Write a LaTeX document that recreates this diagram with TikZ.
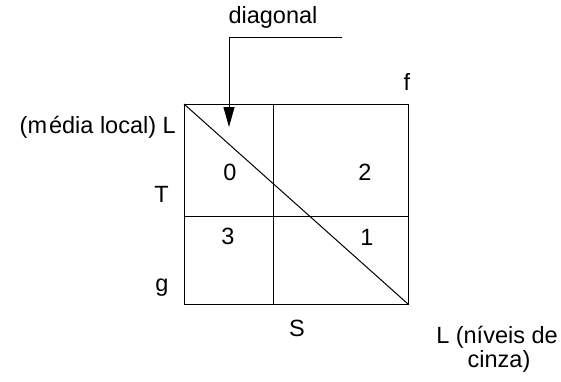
\documentclass[tikz,border=0pt]{standalone}
\usepackage{fontspec}
\setmainfont{Liberation Sans}
\usetikzlibrary{arrows.meta}
\begin{document}
\begin{tikzpicture}[x=1pt,y=-1pt,
  line/.style={draw=black,line width=1pt},
  lbl/.style={inner sep=0pt,font=\fontsize{23.5}{25}\selectfont},
  pointer/.style={line,-{Triangle[length=20pt,width=11pt]}}]
\useasboundingbox (0,0) rectangle (561,381);
% square
\coordinate (tl) at (184,104);
\coordinate (br) at (408,304);
\coordinate (vt) at (273,104);
\coordinate (vb) at (273,304);
\coordinate (hl) at (184,216);
\coordinate (hr) at (408,216);
\draw[line] (tl) rectangle (br);
\draw[line] (vt) -- (vb);
\draw[line] (hl) -- (hr);
\draw[line] (tl) -- (br);
% pointer
\coordinate (p0) at (342,37);
\coordinate (p1) at (229,127);
\draw[pointer] (p0) -| (p1);
% labels
\node[lbl,anchor=base] (diag) at (273,23) {diagonal};
\node[lbl,anchor=base] (f) at (407,90) {f};
\node[lbl,anchor=base east] (ml) at (176,133) {(m\kern2pt édia local) L};
\node[lbl,anchor=base] (T) at (161.5,202) {T};
\node[lbl,anchor=base] (g) at (162,291) {g};
\node[lbl,anchor=base] (n0) at (230,180) {0};
\node[lbl,anchor=base] (n2) at (365,180) {2};
\node[lbl,anchor=base] (n3) at (228,244) {3};
\node[lbl,anchor=base] (n1) at (367,245) {1};
\node[lbl,anchor=base] (S) at (297,336) {S};
\node[lbl,anchor=base] (Ln) at (497,343) {L (níveis de};
\node[lbl,anchor=base] (cz) at (499,367) {cinza)};
\end{tikzpicture}
\end{document}
